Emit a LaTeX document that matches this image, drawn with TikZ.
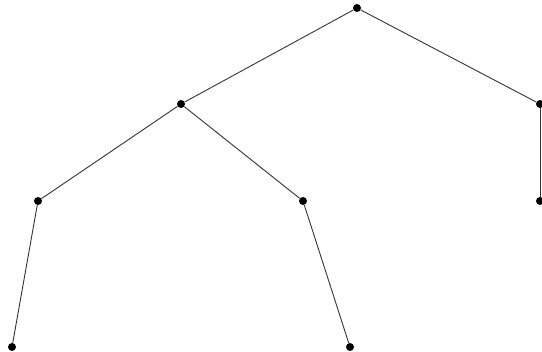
\documentclass[tikz,border=0pt]{standalone}
\usepackage{tikz}
\usetikzlibrary{positioning}
\tikzstyle{dot} = [circle, fill=black, inner sep=0pt, minimum size=8pt]
\tikzstyle{edge} = [line width=0.9pt, black!80]

\begin{document}
\begin{tikzpicture}[x=1pt, y=-1pt]

  \useasboundingbox (0, 0) rectangle (542, 352);

  \node[dot] (root) at (357, 8) {};
  \node[dot] (l) at (181, 104) {};
  \node[dot] (r) at (540, 104) {};
  \node[dot] (ll) at (38, 201) {};
  \node[dot] (lr) at (303, 201) {};
  \node[dot] (rr) at (540, 201) {};
  \node[dot] (lll) at (12, 347) {};
  \node[dot] (lrr) at (350, 347) {};

  \draw[edge] (root) -- (l);
  \draw[edge] (root) -- (r);
  \draw[edge] (l) -- (ll);
  \draw[edge] (l) -- (lr);
  \draw[edge] (r) -- (rr);
  \draw[edge] (ll) -- (lll);
  \draw[edge] (lr) -- (lrr);

\end{tikzpicture}
\end{document}
